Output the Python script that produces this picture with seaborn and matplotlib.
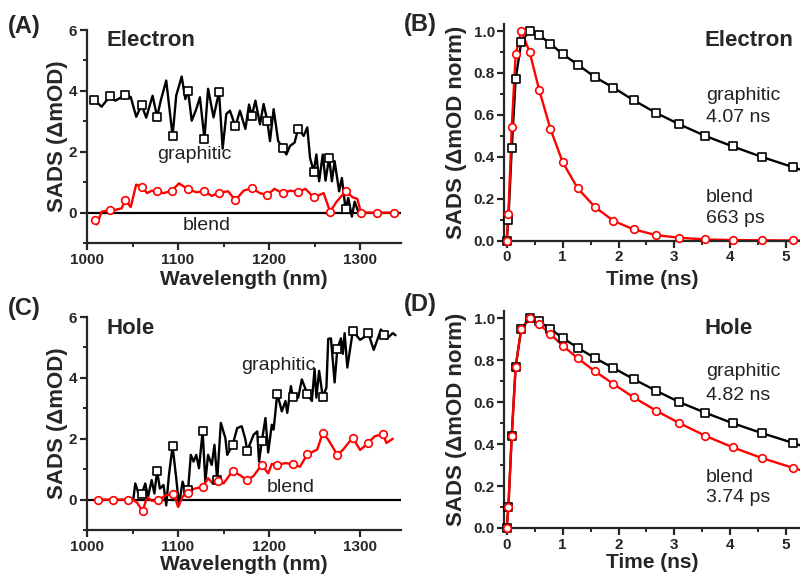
import numpy as np
import pandas as pd
import matplotlib
matplotlib.use("Agg")
import matplotlib.pyplot as plt
from matplotlib.ticker import MultipleLocator
import seaborn as sns

# ------------------------------------------------------------
# Data
# ------------------------------------------------------------
# (A) electron, graphitic
elec_gr_wl = [1008, 1016, 1025, 1031, 1042, 1048, 1054, 1060, 1065, 1072, 1077, 1081,
              1087, 1094, 1098, 1104, 1108, 1111, 1115, 1120, 1124, 1129, 1133, 1139,
              1145, 1149, 1153, 1157, 1163, 1168, 1174, 1178, 1181, 1185, 1190, 1194,
              1198, 1201, 1205, 1210, 1215, 1219, 1223, 1228, 1232, 1238, 1242, 1245,
              1249, 1252, 1255, 1259, 1262, 1266, 1269, 1272, 1277, 1280, 1284, 1287,
              1291, 1294, 1298]
elec_gr_val = [3.70, 3.48, 3.82, 3.68, 3.86, 3.80, 3.15, 3.54, 3.12, 3.84, 3.15, 3.68,
               4.34, 2.52, 3.85, 4.47, 3.73, 4.01, 3.02, 3.40, 3.79, 2.43, 4.07, 3.13,
               3.97, 2.10, 3.24, 3.35, 2.83, 3.35, 2.75, 3.55, 3.18, 3.68, 2.90, 3.57,
               3.02, 2.35, 3.40, 2.35, 2.13, 1.91, 2.19, 2.30, 2.76, 2.52, 2.80, 1.80,
               1.35, 1.91, 1.03, 1.91, 1.05, 1.80, 1.03, 1.69, 0.70, 1.14, 0.12, 0.48,
               -0.13, 0.36, 0.03]
elec_gr_marks = [1008, 1025, 1042, 1060, 1077, 1094, 1111, 1129, 1145, 1163, 1181,
                 1198, 1215, 1232, 1249, 1266, 1284]

# (A) electron, blend
elec_bl_wl = [1009, 1011, 1016, 1025, 1031, 1038, 1042, 1048, 1054, 1060, 1066, 1071,
              1077, 1084, 1093, 1101, 1111, 1120, 1129, 1137, 1145, 1155, 1163, 1172,
              1181, 1190, 1198, 1206, 1215, 1223, 1232, 1240, 1249, 1260, 1267, 1274,
              1284, 1292, 1297, 1301, 1319, 1337]
elec_bl_val = [-0.24, -0.39, 0.03, 0.08, 0.09, 0.14, 0.42, 0.18, 0.92, 0.85, 0.64, 0.72,
               0.70, 0.64, 0.72, 0.96, 0.77, 0.67, 0.70, 0.55, 0.65, 0.70, 0.40, 0.72,
               0.80, 0.64, 0.58, 0.78, 0.63, 0.72, 0.68, 0.78, 0.50, 0.64, 0.03, 0.35,
               0.70, 0.50, 0.45, 0.00, 0.00, 0.00]
elec_bl_marks = [1009, 1025, 1042, 1060, 1077, 1093, 1111, 1129, 1145, 1163, 1181,
                 1198, 1215, 1232, 1249, 1267, 1284, 1301, 1319, 1337]

# (C) hole, graphitic
hole_gr_wl = [1051, 1053, 1056, 1060, 1064, 1067, 1071, 1074, 1077, 1080, 1084, 1087,
              1090, 1094, 1098, 1101, 1105, 1108, 1111, 1114, 1117, 1120, 1123, 1127,
              1130, 1133, 1137, 1140, 1143, 1147, 1152, 1154, 1160, 1165, 1170, 1174,
              1176, 1183, 1187, 1189, 1192, 1196, 1199, 1203, 1205, 1209, 1214, 1218,
              1220, 1224, 1226, 1232, 1236, 1242, 1247, 1250, 1252, 1255, 1259, 1263,
              1265, 1268, 1272, 1275, 1279, 1281, 1283, 1286, 1292, 1300, 1305, 1309,
              1315, 1323, 1326, 1329, 1336, 1339]
hole_gr_val = [0.05, 0.53, 0.25, 0.17, 0.53, 0.09, 0.64, 0.20, 0.94, 0.36, 0.48, -0.19,
               0.81, 1.75, 0.70, -0.19, 0.59, 0.25, 0.31, 1.47, 1.25, 1.47, 1.03, 2.24,
               0.59, 1.47, 1.14, 1.80, 0.64, 2.52, 2.02, 1.47, 1.80, 2.35, 2.41, 1.97,
               1.60, 2.13, 2.24, 1.25, 1.91, 2.68, 1.55, 2.46, 2.30, 3.48, 2.90, 3.24,
               2.85, 3.73, 3.37, 3.35, 3.95, 3.48, 3.24, 4.29, 3.35, 4.23, 3.37, 3.68,
               5.28, 5.30, 3.85, 4.95, 5.30, 4.79, 5.47, 4.34, 5.54, 5.25, 5.35, 5.47,
               4.92, 5.59, 5.42, 5.28, 5.47, 5.40]
hole_gr_marks = [1060, 1077, 1094, 1111, 1127, 1143, 1160, 1176, 1192, 1209, 1226,
                 1242, 1259, 1275, 1292, 1309, 1326]

# (C) hole, blend
hole_bl_wl = [1012, 1028, 1045, 1050, 1055, 1061, 1066, 1071, 1078, 1082, 1087, 1094,
              1097, 1100, 1105, 1111, 1117, 1127, 1133, 1138, 1144, 1150, 1160, 1168,
              1176, 1183, 1192, 1199, 1203, 1209, 1218, 1226, 1234, 1242, 1250, 1253,
              1259, 1265, 1275, 1281, 1292, 1300, 1309, 1316, 1325, 1329, 1336]
hole_bl_val = [0.00, 0.00, 0.00, 0.00, -0.10, -0.39, 0.09, -0.04, -0.02, 0.05, 0.15, 0.17,
               0.05, -0.24, 0.10, 0.22, 0.35, 0.42, 0.70, 0.53, 0.61, 0.53, 0.94, 0.80,
               0.64, 0.78, 1.14, 0.86, 1.17, 1.14, 1.20, 1.16, 1.08, 1.49, 1.60, 1.65,
               2.19, 1.97, 1.47, 1.63, 2.04, 1.63, 1.86, 2.08, 2.15, 1.86, 2.00]
hole_bl_marks = [1012, 1028, 1045, 1061, 1078, 1094, 1111, 1127, 1144, 1160, 1176,
                 1192, 1209, 1226, 1242, 1259, 1275, 1292, 1309, 1325]

# (B)/(D) kinetics, normalised
time_ns = [0.0, 0.03, 0.09, 0.16, 0.26, 0.41, 0.58, 0.78, 1.0, 1.27, 1.58, 1.91,
           2.27, 2.67, 3.09, 3.55, 4.04, 4.56, 5.13, 5.3]
elec_gr_kin = [0.0, 0.10, 0.44, 0.77, 0.95, 1.0, 0.98, 0.94, 0.89, 0.84, 0.78, 0.73,
               0.67, 0.61, 0.555, 0.50, 0.45, 0.40, 0.35, 0.335]
elec_bl_kin = [0.0, 0.125, 0.54, 0.89, 1.0, 0.90, 0.72, 0.535, 0.375, 0.25, 0.16, 0.095,
               0.054, 0.027, 0.014, 0.006, 0.003, 0.002, 0.001, 0.001]
hole_gr_kin = [0.0, 0.10, 0.44, 0.77, 0.95, 1.0, 0.985, 0.95, 0.906, 0.86, 0.81, 0.763,
               0.71, 0.655, 0.60, 0.55, 0.50, 0.453, 0.405, 0.39]
hole_bl_kin = [0.0, 0.10, 0.44, 0.77, 0.95, 1.0, 0.973, 0.925, 0.87, 0.81, 0.747, 0.687,
               0.623, 0.56, 0.50, 0.44, 0.385, 0.334, 0.286, 0.272]

# ------------------------------------------------------------
# Style
# ------------------------------------------------------------
sns.set_style("ticks")
plt.rcParams['font.family'] = ['Liberation Sans', 'DejaVu Sans']
plt.rcParams['font.weight'] = 'bold'
plt.rcParams['axes.linewidth'] = 1.6

RED = '#ff0000'
TXT = '#222222'
W, H = 800, 580

fig = plt.figure(figsize=(8, 5.8), dpi=100)


def px(x, y):
    return x / W, 1 - y / H


def draw_series(ax, x, y, marks, color, marker):
    df = pd.DataFrame({'x': x, 'y': y})
    sns.lineplot(data=df, x='x', y='y', color=color, lw=1.7, ax=ax,
                 errorbar=None, sort=False, zorder=2)
    sub = df[df['x'].isin(marks)]
    sns.scatterplot(data=sub, x='x', y='y', marker=marker, s=30, color='white',
                    edgecolor=color, linewidth=1.2, ax=ax, zorder=3, clip_on=False)


def style_axes(ax, xmaj, xmin, ymaj, ymin, fmt=None):
    sns.despine(ax=ax)
    ax.xaxis.set_major_locator(MultipleLocator(xmaj))
    ax.xaxis.set_minor_locator(MultipleLocator(xmin))
    ax.yaxis.set_major_locator(MultipleLocator(ymaj))
    ax.yaxis.set_minor_locator(MultipleLocator(ymin))
    ax.tick_params(which='major', direction='out', length=5, width=1.6,
                   labelsize=11, pad=2)
    ax.tick_params(which='minor', direction='out', length=3, width=1.4)
    if fmt:
        ax.yaxis.set_major_formatter(plt.FormatStrFormatter(fmt))


# ---------------- spectra panels ----------------
ax_a = fig.add_axes([0.1088, 0.581, 0.3925, 0.3672])
ax_c = fig.add_axes([0.1088, 0.0862, 0.3925, 0.3672])

for ax, gx, gy, gm, bx, by, bm, ly in [
        (ax_a, elec_gr_wl, elec_gr_val, elec_gr_marks, elec_bl_wl, elec_bl_val, elec_bl_marks, -0.125),
        (ax_c, hole_gr_wl, hole_gr_val, hole_gr_marks, hole_bl_wl, hole_bl_val, hole_bl_marks, -0.118)]:
    ax.axhline(0, color='black', lw=1.6, zorder=1)
    draw_series(ax, gx, gy, gm, 'black', 's')
    draw_series(ax, bx, by, bm, RED, 'o')
    ax.set_xlim(1000, 1345)
    ax.set_ylim(-1, 6)
    style_axes(ax, 100, 50, 2, 1)
    ax.set_xlabel('Wavelength (nm)', fontsize=15, fontweight='bold')
    ax.set_ylabel('SADS (\u0394mOD)', fontsize=16, fontweight='bold')
    ax.xaxis.set_label_coords(0.5, ly)
    ax.yaxis.set_label_coords(-0.06, 0.5)
    ax.xaxis.label.set_va('top')

# ---------------- kinetics panels ----------------
ax_b = fig.add_axes([0.6306, 0.585, 0.3696, 0.3741])
ax_d = fig.add_axes([0.6306, 0.0897, 0.3696, 0.3741])

for ax, gk, bk, ly in [(ax_b, elec_gr_kin, elec_bl_kin, -0.133), (ax_d, hole_gr_kin, hole_bl_kin, -0.116)]:
    draw_series(ax, time_ns, gk, time_ns[:-1], 'black', 's')
    draw_series(ax, time_ns, bk, time_ns[:-1], RED, 'o')
    ax.set_xlim(-0.04, 5.25)
    ax.set_ylim(0, 1.035)
    style_axes(ax, 1, 0.5, 0.2, 0.1, fmt='%.1f')
    ax.set_xlabel('Time (ns)', fontsize=15, fontweight='bold')
    ax.set_ylabel('SADS (\u0394mOD norm)', fontsize=16, fontweight='bold')
    ax.xaxis.set_label_coords(0.5, ly)
    ax.yaxis.set_label_coords(-0.127, 0.5)
    ax.xaxis.label.set_va('top')

# ---------------- annotations ----------------
for lab, (x, y) in [('(A)', (8, 27)), ('(B)', (404, 24)), ('(C)', (8, 308)), ('(D)', (404, 304))]:
    fig.text(*px(x, y), lab, fontsize=17, fontweight='bold', ha='left', va='center')

for lab, (x, y) in [('Electron', (107, 40)), ('Electron', (705, 40)),
                    ('Hole', (107, 329)), ('Hole', (705, 329))]:
    fig.text(*px(x, y), lab, fontsize=16, fontweight='bold', va='center')

notes = [('graphitic', 157, 155), ('blend', 183, 225),
         ('graphitic', 241, 365), ('blend', 267, 488),
         ('graphitic', 706, 96), ('4.07 ns', 706, 118),
         ('blend', 706, 197), ('663 ps', 706, 219),
         ('graphitic', 706, 372), ('4.82 ns', 706, 395),
         ('blend', 706, 477), ('3.74 ps', 706, 498)]
for lab, x, y in notes:
    fig.text(*px(x, y), lab, fontsize=14, fontweight='normal', color=TXT, va='center')

plt.savefig('out.png', dpi=100)
